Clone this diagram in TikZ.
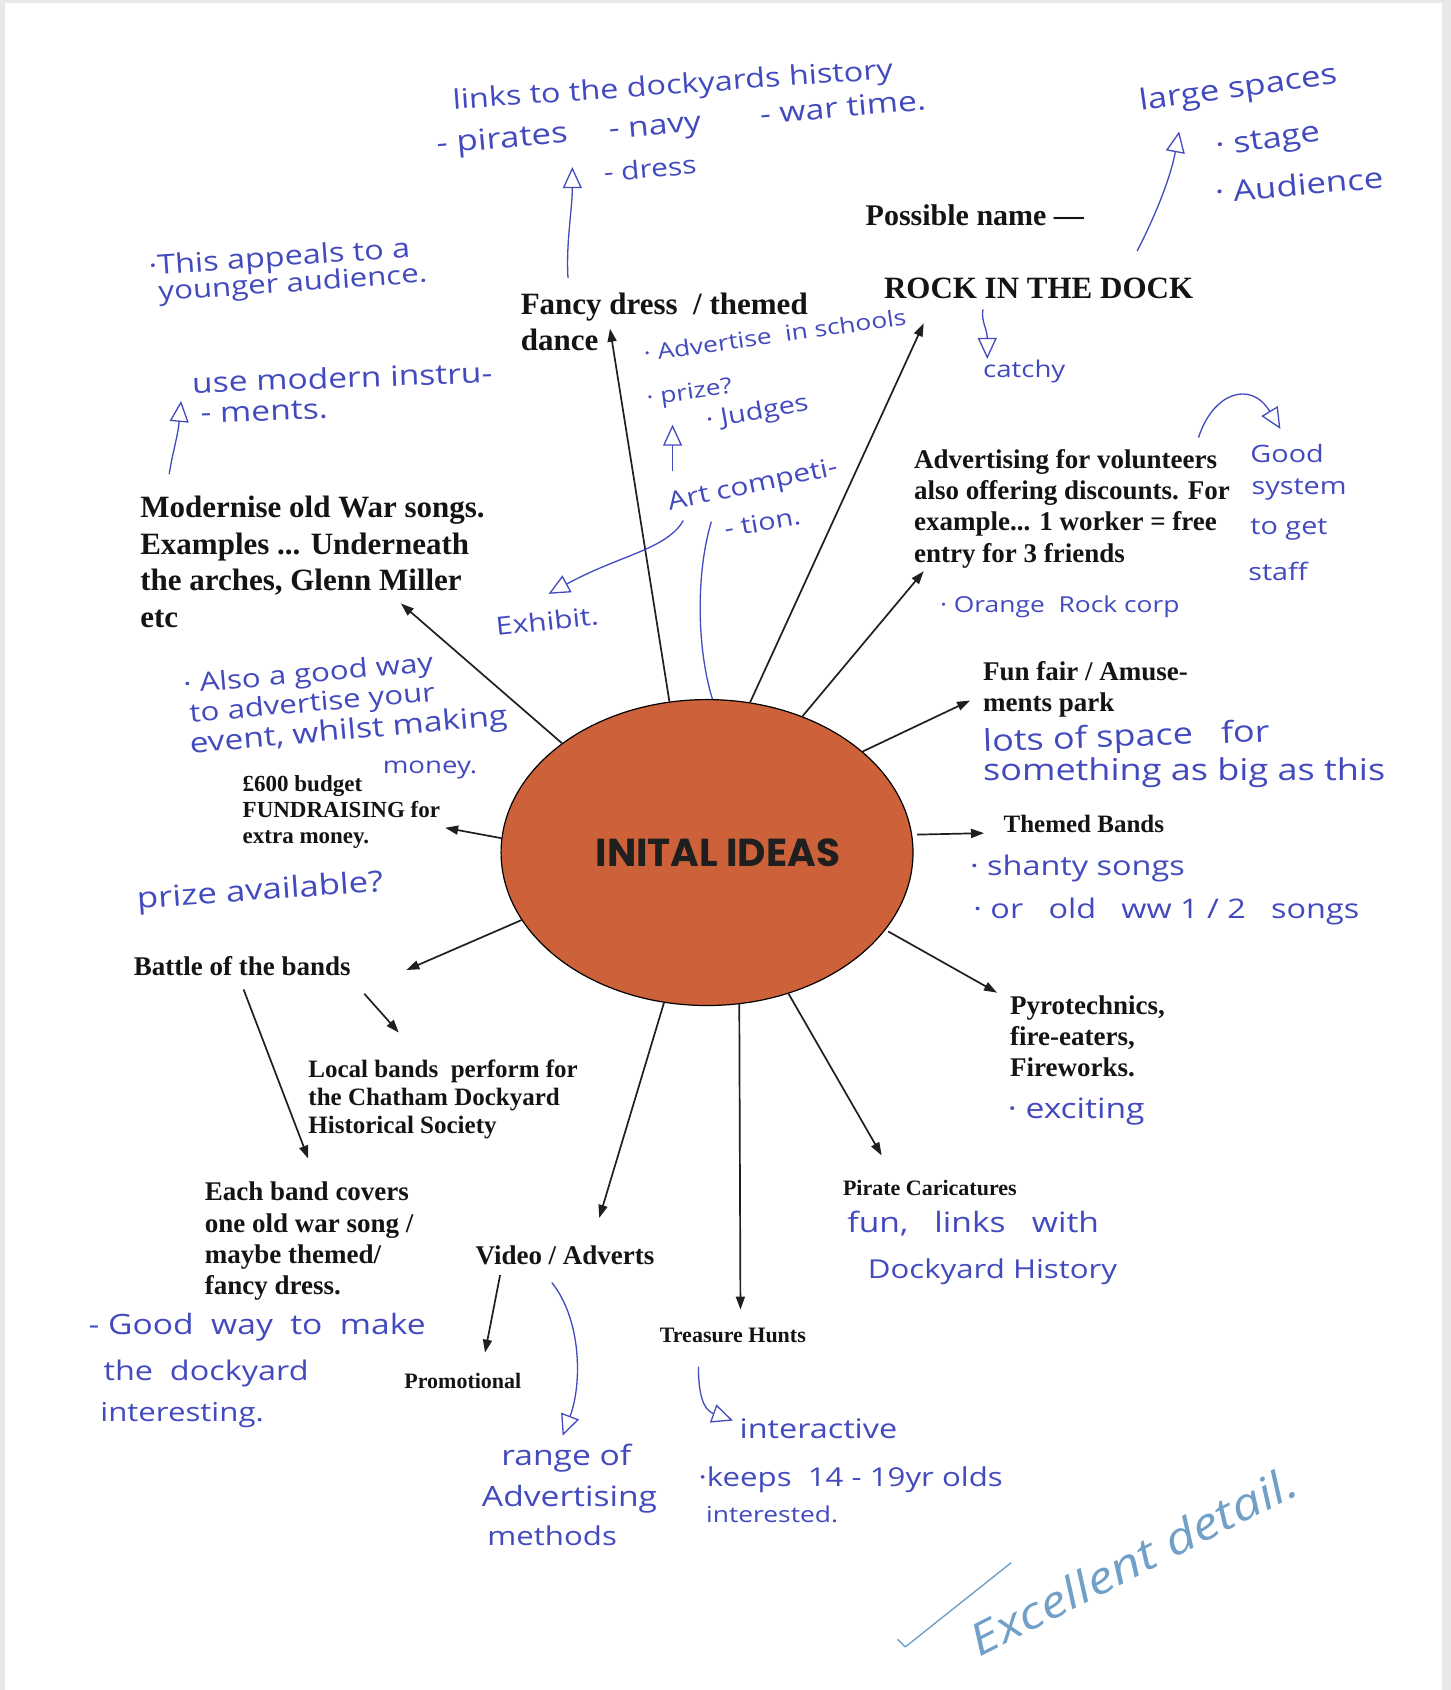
\documentclass[tikz,border=0pt]{standalone}
\usepackage{fontspec}
\setmainfont{Liberation Serif}
\newfontfamily\hand[FakeStretch=1.2]{Open Sans}
\newfontfamily\gothic{Poppins}
\usetikzlibrary{arrows.meta,shapes.geometric}
\definecolor{ink}{RGB}{66,74,190}
\definecolor{markblue}{RGB}{112,160,200}
\definecolor{ballfill}{RGB}{205,98,58}
\definecolor{pagebg}{RGB}{232,232,232}
\tikzset{
  typed/.style 2 args={inner sep=0pt, anchor=north west, align=left, text=black!92,
     font=\fontsize{#1}{#2}\selectfont\bfseries},
  hw/.style={inner sep=0pt, anchor=west, text=ink, font=\hand\fontsize{#1}{#1}\selectfont},
  hw/.default=26,
  arr/.style={draw=black!88, line width=1.7pt, -{Triangle[length=13pt,width=9pt]}},
  harr/.style={draw=ink, line width=1.3pt, -{Triangle[open,length=21pt,width=19pt]}},
  hline/.style={draw=ink, line width=1.3pt},
}
\begin{document}
\begin{tikzpicture}[x=1.078pt,y=-1.078pt]
\useasboundingbox (0,0) rectangle (1346,1568);
% page
\fill[pagebg] (0,0) rectangle (1346,1568);
\fill[white] (4.5,2.8) rectangle (1338,1568);

% central ellipse
\node[ellipse, draw=black, line width=1.2pt, fill=ballfill, minimum width=412pt, minimum height=306pt] (ell) at (656,791) {};
\node[inner sep=0pt, font=\gothic\bfseries\fontsize{39}{39}\selectfont, text=black!88] (title) at (666,791) {INITAL IDEAS};

% typed nodes
\node[typed={30}{34}] (possible) at (803,190) {Possible name —};
\node[typed={31}{35}] (rock) at (820,258) {ROCK IN THE DOCK};
\node[typed={31}{35.6}] (fancy) at (483,272) {Fancy dress~~/ themed\\dance};
\node[typed={27}{31.3}] (adv) at (848,416.5) {Advertising for volunteers\\also offering discounts. For\\example... 1 worker = free\\entry for 3 friends};
\node[typed={31}{36.7}] (modern) at (130,460) {Modernise old War songs.\\Examples ... Underneath\\the arches, Glenn Miller\\etc};
\node[typed={27}{31.3}] (fun) at (912,613.5) {Fun fair / Amuse-\\ments park};
\node[typed={25}{28}] (themed) at (931,756) {Themed Bands};
\node[typed={23}{26.4}] (budget) at (225,719) {£600 budget\\FUNDRAISING for\\extra money.};
\node[typed={27}{31}] (battle) at (124,887.5) {Battle of the bands};
\node[typed={25}{28}] (local) at (286,983) {Local bands~~perform for\\the Chatham Dockyard\\Historical Society};
\node[typed={27}{31.3}] (pyro) at (937,923.5) {Pyrotechnics,\\fire-eaters,\\Fireworks.};
\node[typed={27}{31.3}] (each) at (190,1096.5) {Each band covers\\one old war song /\\maybe themed/\\fancy dress.};
\node[typed={27}{31}] (video) at (441,1155.5) {Video / Adverts};
\node[typed={22}{26}] (pirate) at (782,1095) {Pirate Caricatures};
\node[typed={22}{26}] (promo) at (375,1274) {Promotional};
\node[typed={22}{26}] (treasure) at (612,1232) {Treasure Hunts};

% arrow tips (free ends)
\coordinate (tFancy) at (566,305);
\coordinate (tRock) at (857,300);
\coordinate (tAdv) at (857,530);
\coordinate (tFun) at (900,650);
\coordinate (tThemed) at (913,773);
\coordinate (tPyro) at (925,921);
\coordinate (tPirate) at (818,1072);
\coordinate (tTreasure) at (687,1215);
\coordinate (tVideo) at (556,1130);
\coordinate (tBattle) at (377,900);
\coordinate (tBudget) at (413,768);
\coordinate (tModern) at (372,560);
\coordinate (sLocal) at (338,922);
\coordinate (tLocal) at (370,958);
\coordinate (sEach) at (226,918);
\coordinate (tEach) at (286,1075);
\coordinate (sPromo) at (464,1183);
\coordinate (tPromo) at (450,1255);

\draw[arr] (ell.104.8) -- (tFancy);
\draw[arr] (ell.74) -- (tRock);
\draw[arr] (ell.55.1) -- (tAdv);
\draw[arr] (ell.33.1) -- (tFun);
\draw[arr] ([xshift=5pt]ell.5.2) -- (tThemed);
\draw[arr] ([xshift=4pt]ell.-24.4) -- (tPyro);
\draw[arr] (ell.-60.4) -- (tPirate);
\draw[arr] (ell.-78.2) -- (tTreasure);
\draw[arr] (ell.254.6) -- (tVideo);
\draw[arr] (ell.200.3) -- (tBattle);
\draw[arr] (ell.176.7) -- (tBudget);
\draw[arr] (ell.143.8) -- (tModern);
\draw[arr] (sLocal) -- (tLocal);
\draw[arr] (sEach) -- (tEach);
\draw[arr] (sPromo) -- (tPromo);

% ---------- handwritten notes ----------
\node[hw=27, rotate=4] (n1) at (420,95) {links to the dockyards history};
\node[hw=29, rotate=5] (n2) at (405,136) {- pirates};
\node[hw=28, rotate=5] (n3) at (565,125) {- navy};
\node[hw=28, rotate=5] (n4) at (705,106) {- war time.};
\node[hw=25, rotate=5] (n5) at (560,160) {- dress};
\coordinate (hf1) at (527,258);
\coordinate (hf2) at (531,155);
\draw[harr] (hf1) .. controls (525,225) and (531,195) .. (hf2);

\node[hw=29, rotate=8] (ls1) at (1057,96) {large spaces};
\node[hw=29, rotate=8] (ls2) at (1128,139) {· stage};
\node[hw=29, rotate=5] (ls3) at (1127,178) {· Audience};
\coordinate (hl1) at (1055,233);
\coordinate (hl2) at (1094,122);
\draw[harr] (hl1) .. controls (1072,200) and (1086,165) .. (hl2);

\node[hw=23] (catchy) at (912,345) {catchy};
\coordinate (hc1) at (912,287);
\coordinate (hc2) at (916,333);
\draw[harr] (hc1) .. controls (910,298) and (916,305) .. (hc2);

\node[hw=27, rotate=4] (ya1) at (138,249) {·This appeals to a};
\node[hw=26, rotate=4] (ya2) at (147,273) {younger audience.};

\node[hw=28, rotate=2] (mi1) at (178,355) {use modern instru-};
\node[hw=28, rotate=2] (mi2) at (186,384) {- ments.};
\coordinate (hm1) at (157,440);
\coordinate (hm2) at (168,372);
\draw[harr] (hm1) .. controls (160,420) and (165,405) .. (hm2);

\node[hw=22, rotate=8] (ac1) at (597,328) {· Advertise~~in schools};
\node[hw=22, rotate=8] (ac2) at (600,371) {· prize?};
\node[hw=24, rotate=10] (ac3) at (655,392) {· Judges};
\coordinate (hj1) at (624,437);
\coordinate (hj2) at (624,394);
\draw[harr] (hj1) -- (hj2);
\node[hw=25, rotate=12] (art1) at (620,468) {Art competi-};
\node[hw=24, rotate=10] (art2) at (672,491) {- tion.};
\node[hw=25, rotate=6] (exh) at (460,581) {Exhibit.};
\coordinate (he1) at (634,483);
\coordinate (he2) at (509,551);
\draw[harr] (he1) .. controls (618,510) and (575,515) .. (he2);
\coordinate (ha1) at (660,484);
\draw[hline] (ha1) .. controls (646,530) and (646,600) .. (ell.88);

\node[hw=24] (gs1) at (1160,421) {Good};
\node[hw=24] (gs2) at (1161,454) {system};
\node[hw=24] (gs3) at (1160,491) {to get};
\node[hw=24] (gs4) at (1158,530) {staff};
\coordinate (hg1) at (1112,406);
\coordinate (hg2) at (1188,398);
\draw[harr] (hg1) .. controls (1125,365) and (1160,352) .. (hg2);

\node[hw=22] (orc) at (872,563) {·~Orange~~Rock corp};

\node[hw=26, rotate=5] (gw1) at (170,637) {· Also a good way};
\node[hw=26, rotate=5] (gw2) at (176,664) {to advertise your};
\node[hw=28, rotate=5] (gw3) at (176,692) {event, whilst making};
\node[hw=23] (gw4) at (355,714) {money.};

\node[hw=30, rotate=2] (lot1) at (912,690) {lots of space~~~for};
\node[hw=30] (lot2) at (912,717) {something as big as this};

\node[hw=29, rotate=4] (prz) at (127,836) {prize available?};

\node[hw=27] (sh1) at (900,806) {· shanty songs};
\node[hw=27] (sh2) at (903,846) {· or~~~old~~~ww 1 / 2~~~songs};

\node[hw=28] (exc) at (935,1031) {· exciting};

\node[hw=28] (pc1) at (786,1135) {fun,~~~links~~~with};
\node[hw=26] (pc2) at (805,1180) {Dockyard History};

\node[hw=28] (gd1) at (82,1231) {- Good~~way~~to~~make};
\node[hw=27] (gd2) at (96,1274) {the~~dockyard};
\node[hw=26] (gd3) at (93,1313) {interesting.};

\coordinate (hr1) at (512,1190);
\coordinate (hr2) at (522,1332);
\draw[harr] (hr1) .. controls (540,1225) and (540,1285) .. (hr2);
\node[hw=28] (rg1) at (465,1353) {range of};
\node[hw=28] (rg2) at (447,1391) {Advertising};
\node[hw=26] (rg3) at (452,1425) {methods};

\coordinate (ht1) at (648,1268);
\coordinate (ht2) at (680,1318);
\draw[harr] (ht1) .. controls (648,1292) and (652,1308) .. (ht2);
\node[hw=27] (int) at (686,1326) {interactive};
\node[hw=26] (kp1) at (648,1373) {·keeps~~14 - 19yr olds};
\node[hw=22] (kp2) at (655,1405) {interested.};

% marker comment
\node[inner sep=0pt, anchor=west, rotate=27, text=markblue, font=\hand\itshape\fontsize{44}{44}\selectfont] (excel) at (902,1524) {Excellent detail.};
\coordinate (tk1) at (833,1521);
\coordinate (tk2) at (840,1528);
\coordinate (tk3) at (938,1450);
\draw[markblue, line width=1.4pt, line cap=round, line join=round] (tk1) -- (tk2) -- (tk3);
\end{tikzpicture}
\end{document}
